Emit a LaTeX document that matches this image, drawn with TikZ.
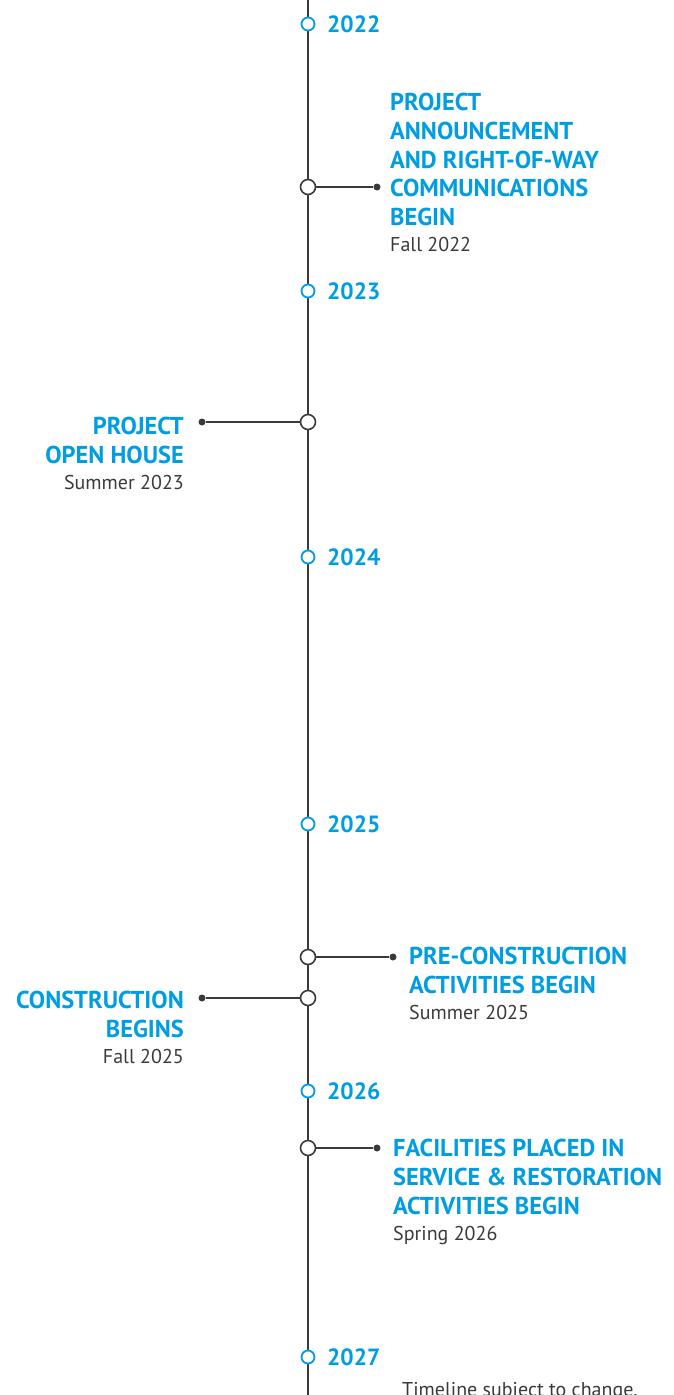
\documentclass[tikz,border=0pt]{standalone}
\usepackage{fontspec}
\setmainfont{PT Sans}
\usepackage{tikz}
\usetikzlibrary{positioning}
\definecolor{tlblue}{RGB}{0,158,224}
\definecolor{tlgray}{RGB}{58,58,58}
\tikzstyle{year} = [circle, draw=tlblue, fill=white, line width=1.8pt,
    inner sep=0pt, minimum size=13pt]
\tikzstyle{event} = [circle, draw=tlgray, fill=white, line width=1.6pt,
    inner sep=0pt, minimum size=15pt]
\tikzstyle{dot} = [circle, fill=tlgray, inner sep=0pt, minimum size=7pt]
\tikzstyle{yearlabel} = [text=tlblue, inner sep=0pt,
    font=\fontsize{23.5}{28}\selectfont\bfseries]
\tikzstyle{eventtitle} = [text=tlblue, inner sep=0pt,
    font=\fontsize{24.4}{28.7}\selectfont\bfseries]
\tikzstyle{when} = [text=tlgray, inner sep=0pt,
    font=\fontsize{20}{23}\selectfont]
\tikzstyle{stem} = [tlgray, line width=1.6pt]

\begin{document}
\begin{tikzpicture}[x=1pt, y=-1pt, node distance=12pt]
    \useasboundingbox (0,0) rectangle (673,1395);
    % Main line
    \coordinate (top) at (308,0);
    \coordinate (bottom) at (308,1395);
    \draw [stem] (top) -- (bottom);

    % Place years
    \foreach \yr/\ypos in {2022/24, 2023/291, 2024/557, 2025/824, 2026/1091, 2027/1357} {
        \node [year] (y\yr) at (308,\ypos) {};
        \node [yearlabel, right=11.5pt of y\yr] (l\yr) {\yr};
    }

    % Place events
    \node [event] (e1) at (308,187) {};
    \node [dot] (d1) at (377,187) {};
    \node [eventtitle, align=left, anchor=north west] (t1) at (390,93)
        {PROJECT\\ANNOUNCEMENT\\AND RIGHT-OF-WAY\\COMMUNICATIONS\\BEGIN};
    \node [when, below=11pt of t1.south west, anchor=north west] (w1) {Fall 2022};

    \node [event] (e2) at (308,422) {};
    \node [dot] (d2) at (202,422) {};
    \node [eventtitle, align=right, anchor=north east] (t2) at (184,417)
        {PROJECT\\OPEN HOUSE};
    \node [when, below=11pt of t2.south east, anchor=north east] (w2) {Summer 2023};

    \node [event] (e3) at (308,957) {};
    \node [dot] (d3) at (393,957) {};
    \node [eventtitle, align=left, anchor=north west] (t3) at (409,947)
        {PRE-CONSTRUCTION\\ACTIVITIES BEGIN};
    \node [when, below=11pt of t3.south west, anchor=north west] (w3) {Summer 2025};

    \node [event] (e4) at (308,998) {};
    \node [dot] (d4) at (202,998) {};
    \node [eventtitle, align=right, anchor=north east] (t4) at (184,991)
        {CONSTRUCTION\\BEGINS};
    \node [when, below=11pt of t4.south east, anchor=north east] (w4) {Fall 2025};

    \node [event] (e5) at (308,1148) {};
    \node [dot] (d5) at (377,1148) {};
    \node [eventtitle, align=left, anchor=north west] (t5) at (393,1139)
        {FACILITIES PLACED IN\\SERVICE \& RESTORATION\\ACTIVITIES BEGIN};
    \node [when, below=11pt of t5.south west, anchor=north west] (w5) {Spring 2026};

    \node [when, anchor=north west] (note) at (402,1382) {Timeline subject to change.};

    % Draw edges
    \foreach \i in {1,...,5}
        \draw [stem] (e\i) -- (d\i);
\end{tikzpicture}
\end{document}
